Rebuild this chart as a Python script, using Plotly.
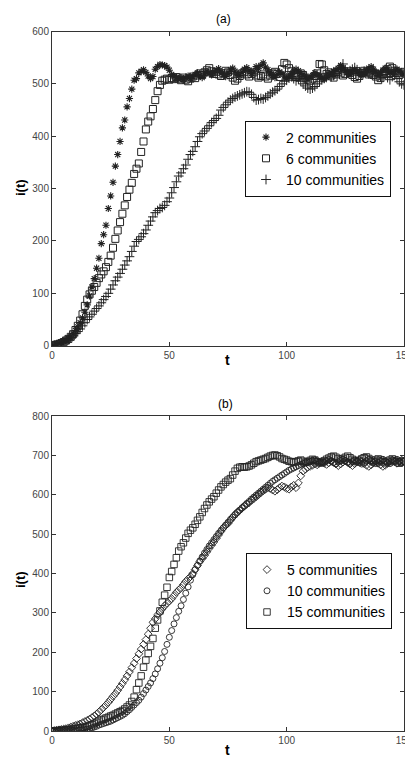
import plotly.graph_objects as go

t = list(range(0, 151))

# ---- panel (a) ----
a_2comm = [0, 1, 2, 4, 6, 8, 11, 14, 18, 23,
           29, 36, 44, 53, 64, 78, 95, 112, 128, 148,
           167, 195, 212, 230, 262, 286, 312, 343, 365, 390,
           416, 431, 456, 472, 490, 507, 510, 521, 524, 527,
           522, 515, 510, 514, 528, 533, 537, 536, 535, 532,
           526, 518, 514, 512, 509, 511, 508, 512, 515, 510,
           514, 518, 521, 516, 512, 519, 524, 520, 517, 522,
           525, 529, 523, 518, 514, 520, 527, 530, 524, 519,
           516, 522, 528, 531, 526, 520, 524, 533, 529, 535,
           540, 532, 527, 521, 516, 512, 518, 523, 520, 515,
           510, 514, 519, 524, 528, 525, 520, 517, 513, 509,
           512, 516, 521, 518, 514, 510, 508, 512, 517, 521,
           524, 527, 530, 535, 531, 526, 522, 519, 523, 527,
           524, 520, 517, 521, 526, 530, 533, 528, 523, 519,
           522, 526, 530, 527, 523, 520, 524, 528, 525, 521,
           518]
a_6comm = [0, 1, 2, 3, 5, 7, 10, 13, 17, 22,
           30, 38, 48, 60, 76, 88, 98, 105, 112, 120,
           129, 136, 142, 150, 160, 172, 187, 204, 220, 236,
           252, 268, 284, 298, 311, 328, 338, 348, 370, 390,
           413, 428, 438, 452, 469, 486, 498, 506, 508, 510,
           508, 511, 509, 513, 510, 507, 512, 508, 505, 510,
           514, 511, 516, 520, 517, 522, 526, 530, 524, 519,
           523, 518, 515, 520, 525, 522, 517, 512, 506, 510,
           515, 520, 523, 518, 514, 519, 522, 516, 512, 515,
           518, 514, 510, 516, 520, 523, 519, 513, 528, 540,
           537, 530, 524, 518, 513, 516, 520, 517, 512, 508,
           506, 510, 515, 520, 538, 537, 526, 519, 522, 516,
           512, 518, 523, 520, 516, 519, 524, 521, 517, 513,
           510, 515, 521, 525, 522, 518, 520, 517, 514, 507,
           511, 518, 524, 528, 533, 530, 525, 521, 517, 520,
           523]
a_10comm = [0, 1, 2, 3, 5, 7, 9, 12, 15, 19,
            23, 27, 32, 38, 44, 50, 55, 60, 66, 71,
            76, 82, 88, 94, 100, 108, 116, 124, 131, 138,
            146, 154, 162, 170, 180, 190, 199, 203, 208, 214,
            221, 230, 238, 246, 254, 258, 262, 264, 268, 275,
            282, 292, 302, 313, 324, 330, 338, 345, 356, 365,
            371, 380, 390, 399, 405, 410, 415, 420, 426, 430,
            434, 440, 450, 455, 460, 465, 469, 472, 475, 477,
            479, 481, 483, 485, 484, 480, 474, 469, 470, 472,
            471, 474, 477, 481, 484, 487, 490, 495, 500, 505,
            507, 511, 514, 510, 506, 509, 505, 500, 496, 492,
            490, 492, 495, 500, 504, 508, 512, 515, 517, 514,
            516, 520, 524, 527, 538, 526, 522, 525, 528, 531,
            527, 523, 520, 524, 523, 519, 522, 526, 520, 516,
            513, 515, 518, 512, 508, 514, 517, 510, 504, 500,
            498]

# ---- panel (b) ----
b_5comm = [0, 1, 2, 3, 4, 5, 6, 8, 10, 12,
           14, 16, 18, 21, 24, 27, 30, 34, 38, 43,
           48, 54, 60, 66, 73, 80, 88, 95, 103, 112,
           121, 130, 140, 150, 161, 172, 184, 196, 208, 220,
           232, 246, 261, 276, 285, 295, 302, 310, 318, 324,
           330, 336, 344, 352, 358, 364, 372, 380, 386, 392,
           400, 410, 420, 430, 438, 446, 455, 464, 472, 480,
           489, 498, 507, 516, 522, 527, 535, 543, 550, 556,
           561, 566, 571, 576, 580, 586, 590, 595, 600, 605,
           610, 614, 618, 616, 612, 609, 613, 618, 622, 620,
           616, 614, 620, 624, 618, 630, 648, 660, 665, 670,
           672, 675, 678, 676, 680, 683, 680, 677, 681, 685,
           682, 678, 674, 678, 683, 686, 682, 678, 674, 679,
           684, 688, 684, 679, 675, 672, 676, 681, 685, 680,
           676, 672, 675, 680, 684, 688, 684, 680, 684, 688,
           685]
b_10comm = [0, 0, 0, 0, 1, 1, 1, 1, 2, 2,
            2, 2, 3, 3, 4, 5, 6, 8, 10, 12,
            15, 17, 19, 21, 23, 25, 28, 31, 34, 37,
            40, 44, 49, 54, 60, 66, 72, 78, 86, 95,
            104, 113, 122, 133, 145, 158, 172, 186, 202, 220,
            238, 255, 272, 288, 304, 318, 334, 350, 366, 383,
            397, 410, 421, 432, 442, 452, 461, 470, 478, 486,
            494, 502, 509, 516, 523, 530, 537, 543, 549, 555,
            561, 567, 572, 578, 583, 589, 594, 599, 604, 609,
            614, 619, 624, 629, 634, 638, 642, 646, 650, 654,
            658, 662, 665, 668, 671, 674, 677, 679, 681, 683,
            684, 686, 688, 686, 683, 680, 683, 686, 689, 686,
            682, 679, 683, 687, 690, 687, 683, 680, 684, 688,
            685, 681, 678, 682, 686, 690, 687, 683, 679, 683,
            687, 690, 686, 682, 679, 683, 687, 690, 686, 682,
            685]
b_15comm = [0, 0, 1, 1, 2, 2, 3, 3, 4, 5,
            6, 7, 8, 9, 10, 12, 14, 16, 19, 22,
            25, 28, 30, 33, 35, 38, 40, 43, 46, 49,
            52, 56, 61, 66, 75, 86, 105, 122, 140, 162,
            180, 197, 215, 235, 261, 282, 305, 327, 345, 365,
            390, 405, 423, 440, 457, 468, 478, 490, 502, 510,
            516, 525, 535, 544, 555, 565, 574, 582, 589, 595,
            604, 612, 620, 626, 632, 637, 641, 650, 660, 667,
            670, 671, 670, 671, 673, 676, 680, 684, 686, 688,
            690, 692, 695, 698, 700, 701, 699, 696, 692, 690,
            688, 685, 684, 682, 684, 686, 688, 685, 682, 684,
            687, 690, 688, 684, 681, 683, 686, 690, 693, 696,
            698, 695, 691, 688, 692, 695, 698, 694, 690, 687,
            684, 687, 691, 694, 696, 692, 688, 684, 688, 691,
            688, 684, 681, 685, 688, 691, 687, 684, 680, 683,
            686]

a_names = ["2 communities", "6 communities", "10 communities"]
b_names = ["5 communities", "10 communities", "15 communities"]
x_ticks = [0, 50, 100, 150]

W, H = 405, 758
ML, MR = 52, 1


def px2x(p):
    return (p - ML) / (W - ML - MR)


def py2y(p):
    return (H - p) / H


FONT = "Arial, Liberation Sans, sans-serif"
fig = go.Figure()

styles_a = [
    dict(symbol="asterisk-open", size=6, line=dict(width=1.1, color="#111")),
    dict(symbol="square-open", size=7, line=dict(width=1, color="#222")),
    dict(symbol="cross-thin-open", size=7, line=dict(width=1, color="#222")),
]
for name, ys, st in zip(a_names, [a_2comm, a_6comm, a_10comm], styles_a):
    fig.add_trace(go.Scatter(x=t, y=ys, mode="markers", name=name,
                             marker=dict(color="#222", **st),
                             xaxis="x", yaxis="y", legend="legend"))

styles_b = [
    dict(symbol="diamond-open", size=6, line=dict(width=0.9, color="#555")),
    dict(symbol="circle-open", size=6, line=dict(width=0.9, color="#222")),
    dict(symbol="square-open", size=6.5, line=dict(width=0.9, color="#222")),
]
for name, ys, st in zip(b_names, [b_5comm, b_10comm, b_15comm], styles_b):
    fig.add_trace(go.Scatter(x=t, y=ys, mode="markers", name=name,
                             marker=dict(color="#222", **st),
                             xaxis="x2", yaxis="y2", legend="legend2"))

axis_common = dict(showline=True, linecolor="#333", linewidth=1, mirror="ticks",
                   ticks="inside", ticklen=4, tickcolor="#333", showgrid=False,
                   zeroline=False, ticklabeloverflow="allow", automargin=False,
                   tickfont=dict(family=FONT, size=10, color="#444"))

fig.update_layout(
    width=W, height=H,
    margin=dict(l=ML, r=MR, t=0, b=0, autoexpand=False),
    paper_bgcolor="white", plot_bgcolor="white",
    font=dict(family=FONT, color="black"),
    xaxis=dict(domain=[0, 1], range=[0, 150], tickvals=x_ticks, anchor="y", **axis_common),
    yaxis=dict(domain=[py2y(345.7), py2y(31.5)], range=[0, 600], dtick=100, anchor="x", **axis_common),
    xaxis2=dict(domain=[0, 1], range=[0, 150], tickvals=x_ticks, anchor="y2", **axis_common),
    yaxis2=dict(domain=[py2y(731), py2y(416)], range=[0, 800], dtick=100, anchor="x2", **axis_common),
    legend=dict(x=px2x(245), y=py2y(158.5), xanchor="left", yanchor="middle",
                bordercolor="#111", borderwidth=1, bgcolor="white",
                font=dict(family=FONT, size=14, color="black"), tracegroupgap=0),
    legend2=dict(x=px2x(246), y=py2y(591), xanchor="left", yanchor="middle",
                 bordercolor="#111", borderwidth=1, bgcolor="white",
                 font=dict(family=FONT, size=14, color="black"), tracegroupgap=0),
    showlegend=True,
)

ann = [
    ("(a)", 223, 19, 0, False, 12),
    ("t", 227, 360, 0, True, 14),
    ("i(t)", 20, 188, -90, True, 13),
    ("(b)", 225, 404, 0, False, 12),
    ("t", 227, 750, 0, True, 14),
    ("i(t)", 20, 580, -90, True, 13),
]
for txt, xp, yp, ang, bold, sz in ann:
    fig.add_annotation(text=f"<b>{txt}</b>" if bold else txt, xref="paper", yref="paper",
                       x=px2x(xp), y=py2y(yp), xanchor="center", yanchor="middle",
                       showarrow=False, textangle=ang,
                       font=dict(family=FONT, size=sz, color="black"))

fig.write_html("out.html", config={"displayModeBar": False},
               post_script="document.body.style.margin='0';")
